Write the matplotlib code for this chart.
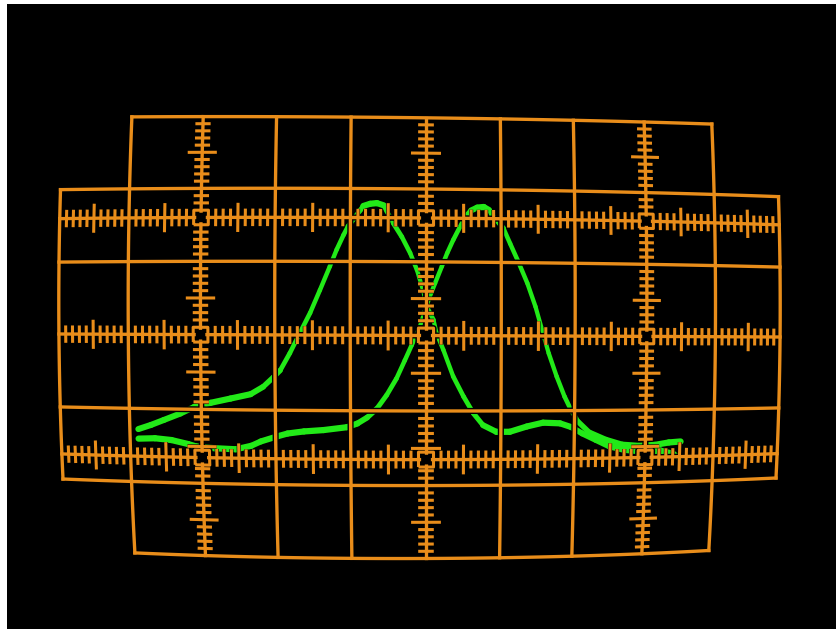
import numpy as np
import matplotlib
matplotlib.use("Agg")
import matplotlib.pyplot as plt
from matplotlib.collections import LineCollection, PolyCollection
from matplotlib.transforms import Transform

# trace A: pulse that peaks first (time in div, amplitude in div)
time_a = [-3.88, -3.70, -3.52, -3.29, -3.10, -2.87, -2.60, -2.33, -2.16, -2.02,
          -1.93, -1.80, -1.67, -1.53, -1.40, -1.27, -1.18, -1.09, -1.03, -0.95,
          -0.87, -0.83, -0.74, -0.65, -0.56, -0.52, -0.43, -0.32, -0.21, -0.12,
          -0.04, 0.01, 0.10, 0.14, 0.23, 0.36, 0.50, 0.63, 0.76, 0.94,
          1.12, 1.35, 1.57, 1.80, 1.95, 2.11, 2.30, 2.49, 2.70, 2.98,
          3.22, 3.41, 3.50]
amp_a = [-1.28, -1.22, -1.15, -1.06, -0.97, -0.91, -0.85, -0.79, -0.69, -0.56,
         -0.47, -0.24, 0.02, 0.30, 0.61, 0.93, 1.16, 1.36, 1.48, 1.59,
         1.70, 1.76, 1.79, 1.80, 1.77, 1.69, 1.52, 1.34, 1.12, 0.89,
         0.62, 0.39, 0.21, 0.03, -0.19, -0.54, -0.81, -1.03, -1.19, -1.28,
         -1.28, -1.21, -1.16, -1.17, -1.22, -1.31, -1.40, -1.49, -1.54, -1.57,
         -1.56, -1.61, -1.67]

# trace B: delayed pulse
time_b = [-3.88, -3.65, -3.42, -3.19, -3.08, -2.83, -2.54, -2.33, -2.20, -1.98,
          -1.84, -1.62, -1.36, -1.05, -0.91, -0.78, -0.65, -0.52, -0.39, -0.28,
          -0.19, -0.08, -0.01, 0.05, 0.12, 0.21, 0.28, 0.36, 0.45, 0.53,
          0.60, 0.68, 0.77, 0.84, 0.88, 0.94, 1.03, 1.12, 1.23, 1.35,
          1.46, 1.55, 1.64, 1.75, 1.86, 1.95, 2.05, 2.21, 2.44, 2.67,
          2.91, 3.14, 3.34, 3.51]
amp_b = [-1.41, -1.40, -1.42, -1.47, -1.50, -1.52, -1.53, -1.48, -1.42, -1.35,
         -1.31, -1.28, -1.26, -1.22, -1.17, -1.09, -0.97, -0.79, -0.57, -0.33,
         -0.13, 0.12, 0.35, 0.53, 0.71, 0.94, 1.12, 1.30, 1.48, 1.63,
         1.71, 1.75, 1.76, 1.72, 1.64, 1.58, 1.47, 1.26, 1.01, 0.72,
         0.40, 0.08, -0.23, -0.54, -0.81, -0.99, -1.15, -1.30, -1.40, -1.47,
         -1.49, -1.48, -1.45, -1.44]

# graticule layout in divisions
plain_cols = [-4, -2, -1, 1, 2, 4]
scale_cols = [-3, 0, 3]
plain_rows = [1, -1]
scale_rows = [1.6, 0.0, -1.65]
BOX = 0.1

ORANGE = '#e98d1a'
GREEN = '#22ea18'


class Screen(Transform):
    """divisions -> pixels on the photographed tube face (barrel + keystone)"""
    input_dims = output_dims = 2

    def transform_non_affine(self, values):
        values = np.asarray(values, dtype=float)
        u, v = values[:, 0], values[:, 1]
        k = 0.00187
        fx = 1 - k * (u ** 2 + v ** 2)
        fy = 1 - k * (u ** 2 * (1 - 0.2 * np.clip(v, 0, None)) + v ** 2)
        sy = np.where(v > 0, 73.8, 75.6)
        x = 419.5 + 75.65 * u * fx + 0.125 * u * v + 0.26 * (25 - u ** 2)
        y = 335.5 - sy * v * fy + 0.2 * u * v + 0.3 * u
        return np.column_stack([x, y])


def seg(p0, p1, n=80):
    return np.linspace(p0, p1, n)


def square(u, v, h, n=6):
    c = [(u - h, v - h), (u + h, v - h), (u + h, v + h), (u - h, v + h), (u - h, v - h)]
    return np.vstack([seg(c[i], c[i + 1], n) for i in range(4)])


fig = plt.figure(figsize=(8.36, 6.29), dpi=100, facecolor='white')
ax = fig.add_axes([7 / 836, 0, 829 / 836, 625 / 629])
ax.set_xlim(7, 836)
ax.set_ylim(629, 4)
ax.set_facecolor('black')
ax.set_xticks([])
ax.set_yticks([])
for s in ax.spines.values():
    s.set_visible(False)

screen = Screen() + ax.transData

# main lines
lines = [seg((-5, 2), (5, 2)), seg((-5, -2), (5, -2)),
         seg((-5, -2), (-5, 2)), seg((5, -2), (5, 2)),
         seg((-4, 3), (4, 3)), seg((-4, -3), (4, -3))]
for u in plain_cols + scale_cols:
    lines.append(seg((u, -3), (u, 3)))
for v in plain_rows + scale_rows:
    lines.append(seg((-5, v), (5, v)))


def in_box(u, v):
    return any(abs(u - bu) < BOX + 0.02 and abs(v - bv) < BOX + 0.02
               for bu in scale_cols for bv in scale_rows)


# minor / half-division ticks
ticks = []
for v in scale_rows:
    for i in range(-49, 50):
        if i % 10 == 0 or in_box(i / 10, v):
            continue
        h = 0.2 if i % 5 == 0 else 0.12
        ticks.append(seg((i / 10, v - h), (i / 10, v + h), 4))
for u in scale_cols:
    for j in range(-29, 30):
        if j % 10 == 0 or in_box(u, j / 10):
            continue
        h = 0.2 if j % 5 == 0 else 0.105
        ticks.append(seg((u - h, j / 10), (u + h, j / 10), 4))

# hollow squares where the scales cross
boxes = [square(u, v, BOX) for u in scale_cols for v in scale_rows]
holes = [square(u, v, BOX - 0.035) for u in scale_cols for v in scale_rows]


def trace(t, a):
    pts = np.column_stack([t, a])
    segs = np.stack([pts[:-1], pts[1:]], axis=1)
    slope = np.abs(np.diff(a) / np.diff(t))
    widths = 2.9 + 1.6 / (1 + (slope / 1.2) ** 2)
    ax.add_collection(LineCollection(segs, colors=GREEN, linewidths=widths,
                                     capstyle='round', joinstyle='round',
                                     transform=screen, zorder=2), autolim=False)


trace(time_a, amp_a)
trace(time_b, amp_b)

# black surround so the traces break where the graticule crosses them
ax.add_collection(LineCollection(lines + boxes, colors='black', linewidths=4.4,
                                 transform=screen, zorder=3), autolim=False)
ax.add_collection(LineCollection(ticks, colors='black', linewidths=3.0,
                                 capstyle='butt', transform=screen, zorder=3), autolim=False)
ax.add_collection(LineCollection(lines, colors=ORANGE, linewidths=2.4,
                                 capstyle='projecting', transform=screen, zorder=4), autolim=False)
ax.add_collection(LineCollection(ticks, colors=ORANGE, linewidths=2.2,
                                 capstyle='butt', transform=screen, zorder=4), autolim=False)
ax.add_collection(PolyCollection(holes, facecolors='black', edgecolors='none',
                                 transform=screen, zorder=5), autolim=False)
ax.add_collection(LineCollection(boxes, colors=ORANGE, linewidths=2.2,
                                 transform=screen, zorder=6), autolim=False)

fig.savefig('out.png', dpi=100, facecolor='white')
